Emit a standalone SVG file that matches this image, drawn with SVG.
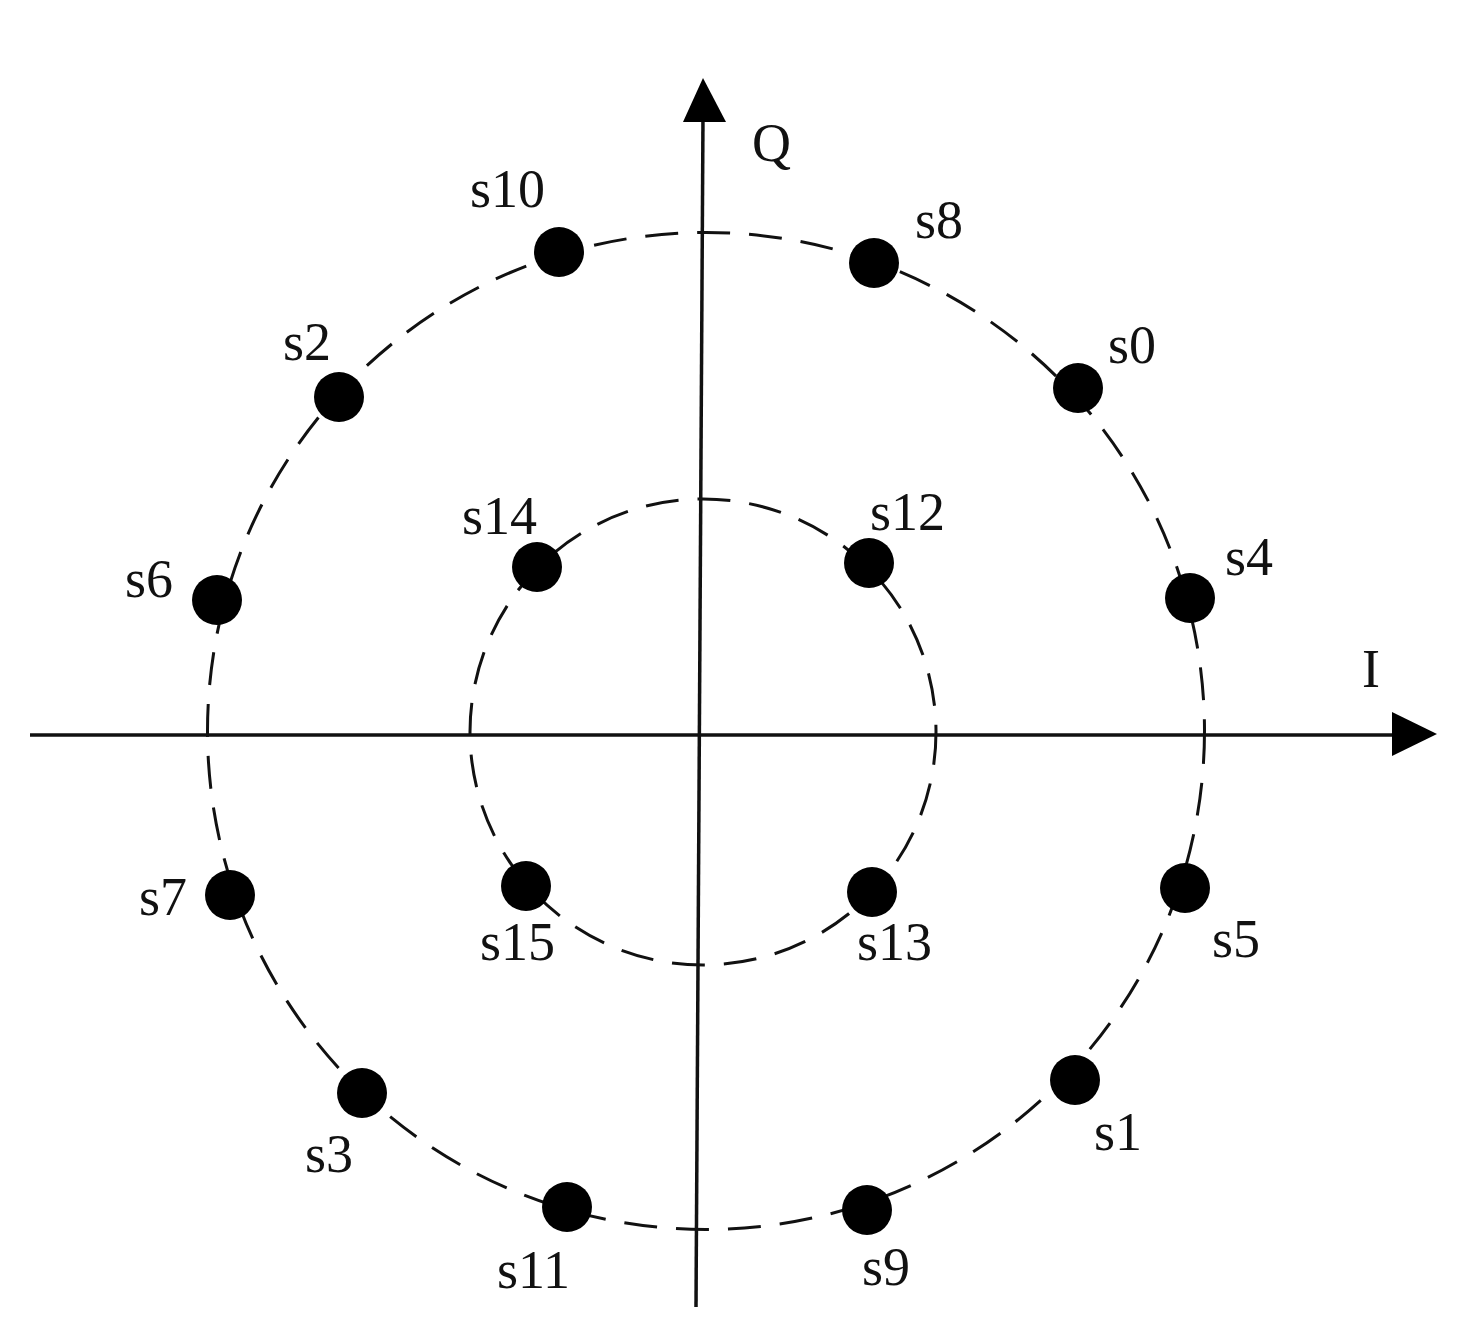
<svg xmlns="http://www.w3.org/2000/svg" width="1461" height="1344" viewBox="0 0 1461 1344">
<style>
.ring{fill:none;stroke:#111;stroke-width:3;stroke-dasharray:33 19}
.axis{stroke:#111;stroke-width:3.5;fill:none}
.head{fill:#000}
.dot{fill:#000}
.lbl{font-family:"Liberation Serif","Times New Roman",serif;font-size:54px;fill:#111}
</style>
<rect width="1461" height="1344" fill="#fff"/>
<g id="rings">
<circle class="ring" cx="706" cy="731" r="498.5"/>
<circle class="ring" cx="703" cy="732" r="233"/>
</g>
<g id="connectors">
<line class="axis" x1="30" y1="735" x2="1400" y2="735"/>
<polygon class="head" points="1437,734 1392,712 1392,756"/>
<line class="axis" x1="696" y1="1307" x2="703" y2="115"/>
<polygon class="head" points="703,78 683,122 726,122"/>
</g>
<g id="axis-labels">
<text class="lbl" x="752" y="161">Q</text>
<text class="lbl" x="1362" y="687">I</text>
</g>
<g id="s0"><circle class="dot" cx="1078" cy="388" r="25"/><text class="lbl" x="1108" y="363">s0</text></g>
<g id="s1"><circle class="dot" cx="1075" cy="1080" r="25"/><text class="lbl" x="1094" y="1150">s1</text></g>
<g id="s2"><circle class="dot" cx="339" cy="397" r="25"/><text class="lbl" x="283" y="360">s2</text></g>
<g id="s3"><circle class="dot" cx="362" cy="1093" r="25"/><text class="lbl" x="305" y="1172">s3</text></g>
<g id="s4"><circle class="dot" cx="1190" cy="598" r="25"/><text class="lbl" x="1225" y="575">s4</text></g>
<g id="s5"><circle class="dot" cx="1185" cy="888" r="25"/><text class="lbl" x="1212" y="957">s5</text></g>
<g id="s6"><circle class="dot" cx="217" cy="600" r="25"/><text class="lbl" x="125" y="597">s6</text></g>
<g id="s7"><circle class="dot" cx="230" cy="895" r="25"/><text class="lbl" x="139" y="915">s7</text></g>
<g id="s8"><circle class="dot" cx="874" cy="263" r="25"/><text class="lbl" x="915" y="238">s8</text></g>
<g id="s9"><circle class="dot" cx="867" cy="1210" r="25"/><text class="lbl" x="862" y="1285">s9</text></g>
<g id="s10"><circle class="dot" cx="559" cy="252" r="25"/><text class="lbl" x="470" y="207">s10</text></g>
<g id="s11"><circle class="dot" cx="567" cy="1207" r="25"/><text class="lbl" x="497" y="1288">s11</text></g>
<g id="s12"><circle class="dot" cx="869" cy="563" r="25"/><text class="lbl" x="870" y="530">s12</text></g>
<g id="s13"><circle class="dot" cx="872" cy="892" r="25"/><text class="lbl" x="857" y="960">s13</text></g>
<g id="s14"><circle class="dot" cx="537" cy="567" r="25"/><text class="lbl" x="462" y="534">s14</text></g>
<g id="s15"><circle class="dot" cx="526" cy="886" r="25"/><text class="lbl" x="480" y="960">s15</text></g>
</svg>
